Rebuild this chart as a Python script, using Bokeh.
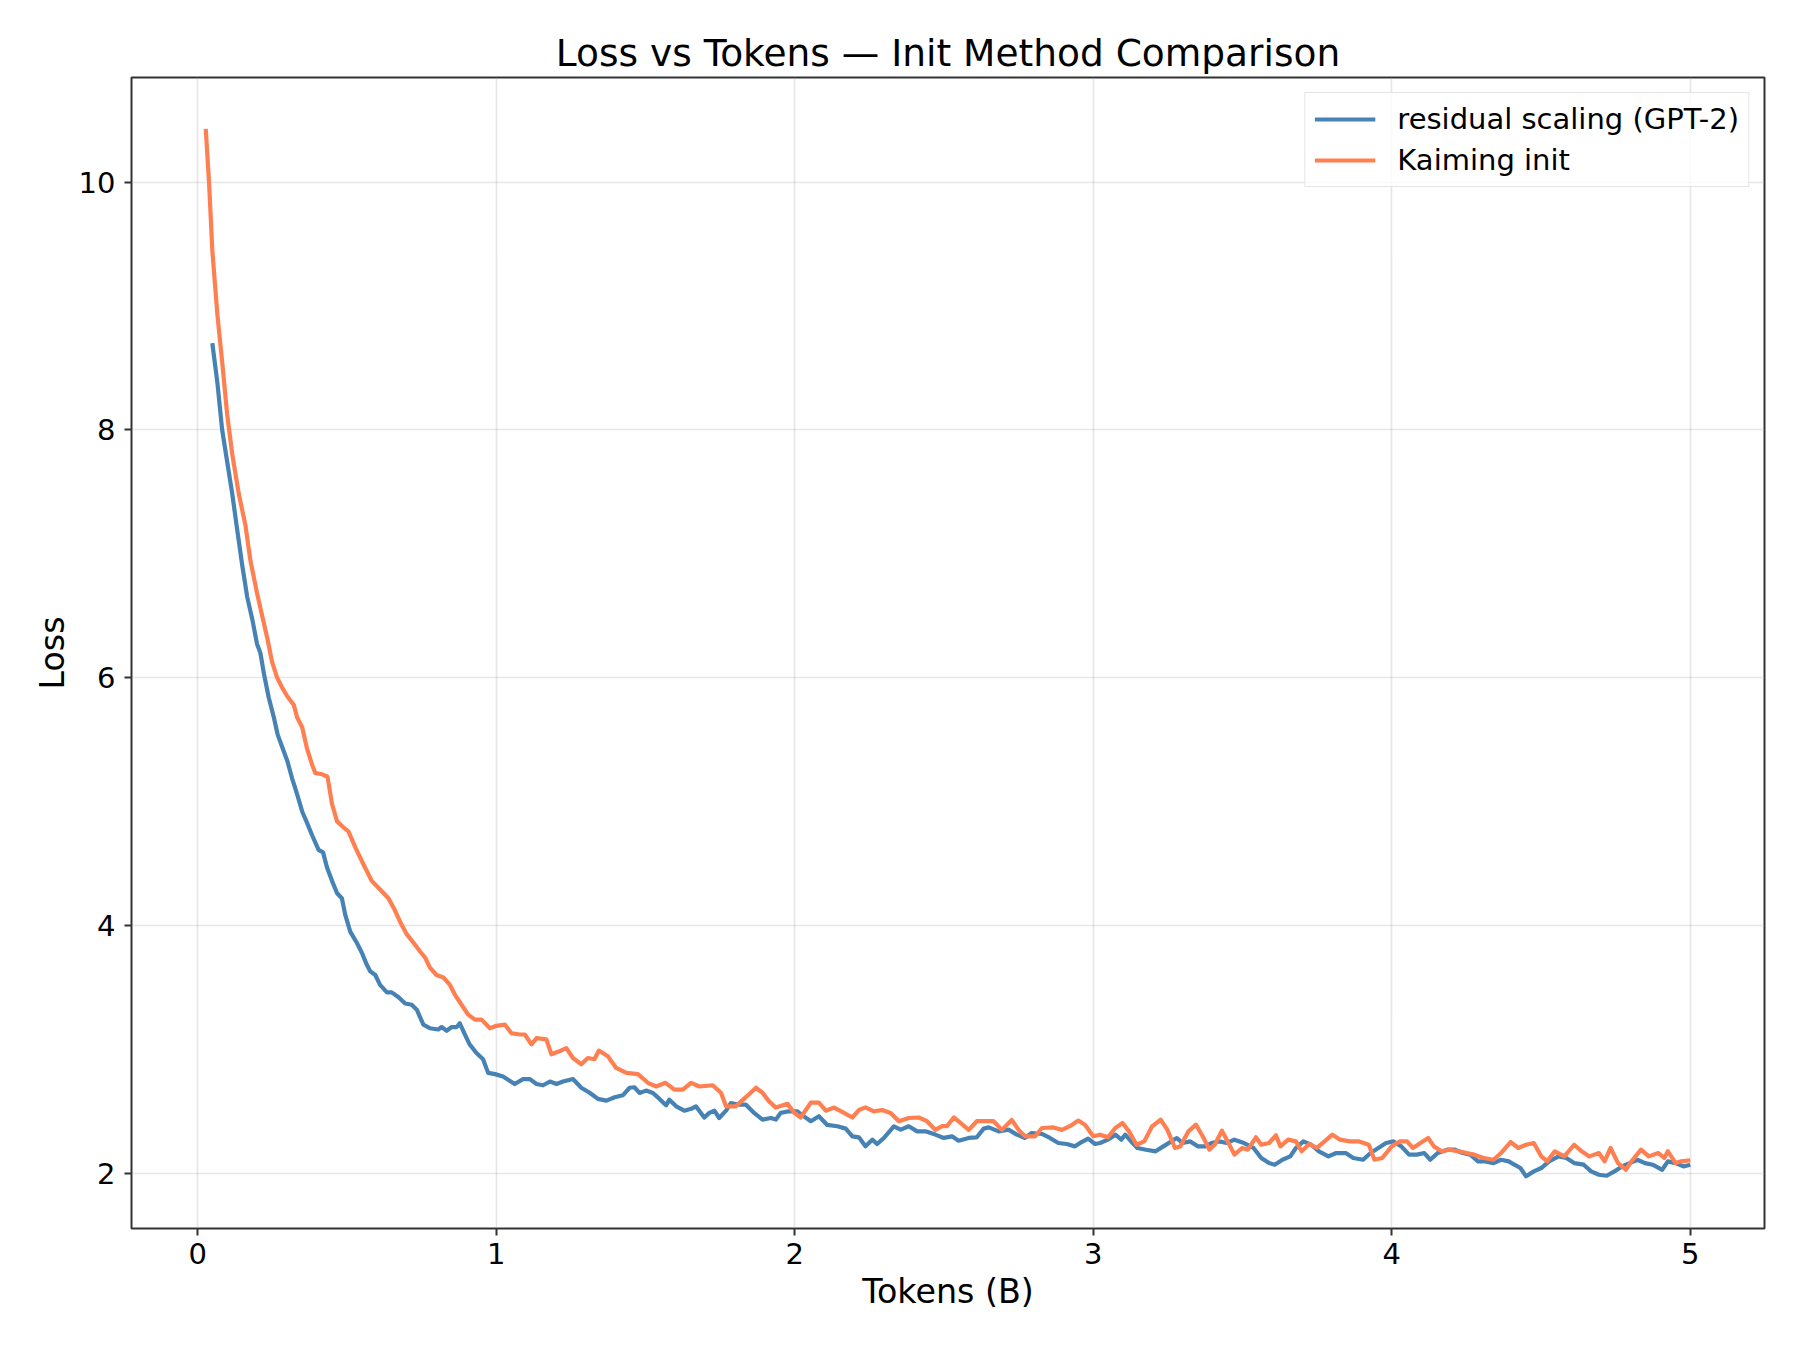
from bokeh.plotting import figure
from bokeh.models import Range1d, FixedTicker
from bokeh.embed import file_html
from bokeh.resources import INLINE

TITLE = "Loss vs Tokens \u2014 Init Method Comparison"
X_LABEL = "Tokens (B)"
Y_LABEL = "Loss"
X_TICKS = [0, 1, 2, 3, 4, 5]
Y_TICKS = [2, 4, 6, 8, 10]
SERIES_NAMES = ["residual scaling (GPT-2)", "Kaiming init"]
SERIES_COLORS = ["#4682B4", "#FF7F50"]

residual_tokens = [
    0.049, 0.066, 0.082, 0.099, 0.116, 0.132, 0.149, 0.166, 0.183, 0.199,
    0.210, 0.222, 0.238, 0.255, 0.268, 0.280, 0.300, 0.316, 0.333, 0.350,
    0.366, 0.383, 0.405, 0.420, 0.433, 0.450, 0.467, 0.483, 0.494, 0.511,
    0.533, 0.550, 0.567, 0.578, 0.595, 0.611, 0.634, 0.650, 0.673, 0.695,
    0.717, 0.734, 0.756, 0.778, 0.806, 0.817, 0.834, 0.851, 0.867, 0.878,
    0.895, 0.911, 0.934, 0.956, 0.973, 0.996, 1.023, 1.062, 1.090, 1.113,
    1.135, 1.157, 1.180, 1.202, 1.224, 1.257, 1.285, 1.313, 1.341, 1.369,
    1.397, 1.424, 1.447, 1.463, 1.480, 1.502, 1.525, 1.547, 1.569, 1.580,
    1.603, 1.630, 1.653, 1.669, 1.697, 1.714, 1.731, 1.747, 1.770, 1.786,
    1.809, 1.836, 1.864, 1.892, 1.920, 1.937, 1.953, 1.981, 2.009, 2.026,
    2.054, 2.081, 2.109, 2.143, 2.171, 2.193, 2.215, 2.237, 2.260, 2.276,
    2.299, 2.332, 2.355, 2.382, 2.410, 2.438, 2.471, 2.499, 2.527, 2.549,
    2.583, 2.610, 2.633, 2.650, 2.683, 2.716, 2.744, 2.772, 2.794, 2.828,
    2.855, 2.883, 2.911, 2.939, 2.961, 2.983, 3.006, 3.023, 3.049, 3.074,
    3.094, 3.107, 3.132, 3.148, 3.177, 3.209, 3.235, 3.261, 3.280, 3.299,
    3.325, 3.351, 3.376, 3.396, 3.422, 3.447, 3.473, 3.505, 3.537, 3.563,
    3.589, 3.608, 3.634, 3.660, 3.679, 3.704, 3.730, 3.756, 3.788, 3.814,
    3.846, 3.871, 3.904, 3.929, 3.955, 3.981, 4.006, 4.032, 4.058, 4.084,
    4.109, 4.129, 4.154, 4.186, 4.212, 4.238, 4.263, 4.289, 4.314, 4.341,
    4.366, 4.392, 4.411, 4.431, 4.450, 4.476, 4.501, 4.527, 4.559, 4.585,
    4.611, 4.643, 4.668, 4.694, 4.720, 4.746, 4.771, 4.797, 4.823, 4.848,
    4.874, 4.906, 4.925, 4.951, 4.977, 5.000,
]
residual_loss = [
    8.70, 8.38, 8.00, 7.74, 7.48, 7.20, 6.91, 6.65, 6.47, 6.27,
    6.20, 6.03, 5.84, 5.68, 5.54, 5.46, 5.33, 5.19, 5.06, 4.92,
    4.83, 4.73, 4.61, 4.59, 4.47, 4.36, 4.26, 4.22, 4.09, 3.95,
    3.86, 3.78, 3.68, 3.63, 3.60, 3.52, 3.46, 3.46, 3.42, 3.37,
    3.36, 3.32, 3.20, 3.17, 3.16, 3.18, 3.15, 3.18, 3.18, 3.21,
    3.12, 3.04, 2.97, 2.92, 2.81, 2.80, 2.78, 2.72, 2.76, 2.76,
    2.72, 2.71, 2.74, 2.72, 2.74, 2.76, 2.69, 2.65, 2.60, 2.586,
    2.613, 2.629, 2.69, 2.694, 2.648, 2.667, 2.648, 2.60, 2.548, 2.594,
    2.54, 2.505, 2.52, 2.54, 2.45, 2.487, 2.505, 2.446, 2.505, 2.567,
    2.554, 2.554, 2.487, 2.433, 2.446, 2.433, 2.487, 2.50, 2.50, 2.467,
    2.42, 2.46, 2.39, 2.379, 2.36, 2.298, 2.29, 2.217, 2.271, 2.236,
    2.285, 2.379, 2.352, 2.379, 2.338, 2.338, 2.312, 2.285, 2.298, 2.263,
    2.285, 2.29, 2.36, 2.37, 2.338, 2.352, 2.312, 2.285, 2.325, 2.317,
    2.285, 2.244, 2.236, 2.217, 2.252, 2.279, 2.236, 2.244, 2.271, 2.311,
    2.271, 2.311, 2.244, 2.204, 2.19, 2.177, 2.217, 2.257, 2.284, 2.244,
    2.257, 2.217, 2.217, 2.244, 2.257, 2.244, 2.271, 2.244, 2.204, 2.123,
    2.082, 2.069, 2.109, 2.136, 2.204, 2.257, 2.23, 2.177, 2.136, 2.163,
    2.163, 2.123, 2.109, 2.163, 2.204, 2.244, 2.257, 2.217, 2.15, 2.15,
    2.163, 2.109, 2.163, 2.19, 2.19, 2.163, 2.15, 2.096, 2.096, 2.082,
    2.109, 2.096, 2.069, 2.042, 1.975, 2.015, 2.042, 2.096, 2.136, 2.123,
    2.082, 2.069, 2.015, 1.988, 1.98, 2.015, 2.055, 2.082, 2.109, 2.082,
    2.069, 2.028, 2.096, 2.082, 2.055, 2.069,
]

kaiming_tokens = [
    0.027, 0.038, 0.049, 0.066, 0.082, 0.099, 0.116, 0.138, 0.160, 0.177,
    0.199, 0.216, 0.233, 0.249, 0.266, 0.283, 0.300, 0.322, 0.333, 0.350,
    0.366, 0.383, 0.394, 0.417, 0.435, 0.450, 0.467, 0.489, 0.505, 0.528,
    0.556, 0.583, 0.611, 0.639, 0.661, 0.678, 0.700, 0.723, 0.745, 0.762,
    0.778, 0.800, 0.823, 0.845, 0.862, 0.884, 0.906, 0.929, 0.951, 0.979,
    1.001, 1.029, 1.051, 1.079, 1.096, 1.118, 1.135, 1.168, 1.185, 1.207,
    1.235, 1.257, 1.285, 1.307, 1.329, 1.344, 1.374, 1.402, 1.436, 1.475,
    1.508, 1.536, 1.567, 1.597, 1.625, 1.653, 1.681, 1.725, 1.753, 1.770,
    1.803, 1.825, 1.848, 1.870, 1.892, 1.914, 1.937, 1.976, 1.998, 2.020,
    2.054, 2.081, 2.104, 2.132, 2.159, 2.193, 2.215, 2.237, 2.265, 2.293,
    2.321, 2.349, 2.382, 2.416, 2.443, 2.471, 2.494, 2.510, 2.533, 2.555,
    2.583, 2.610, 2.638, 2.666, 2.694, 2.727, 2.750, 2.772, 2.805, 2.828,
    2.867, 2.895, 2.922, 2.950, 2.973, 3.000, 3.023, 3.049, 3.074, 3.098,
    3.120, 3.145, 3.171, 3.197, 3.226, 3.248, 3.274, 3.292, 3.319, 3.344,
    3.370, 3.389, 3.407, 3.431, 3.453, 3.473, 3.499, 3.518, 3.545, 3.563,
    3.589, 3.612, 3.627, 3.653, 3.679, 3.698, 3.724, 3.749, 3.775, 3.801,
    3.827, 3.859, 3.891, 3.923, 3.942, 3.968, 4.000, 4.026, 4.051, 4.071,
    4.096, 4.122, 4.141, 4.167, 4.193, 4.225, 4.251, 4.276, 4.308, 4.341,
    4.366, 4.398, 4.424, 4.450, 4.476, 4.501, 4.521, 4.546, 4.578, 4.611,
    4.636, 4.662, 4.694, 4.713, 4.733, 4.758, 4.784, 4.803, 4.835, 4.861,
    4.893, 4.913, 4.925, 4.951, 4.970, 5.000,
]
kaiming_loss = [
    10.43, 10.00, 9.45, 8.93, 8.55, 8.12, 7.80, 7.48, 7.23, 6.94,
    6.68, 6.50, 6.32, 6.13, 6.00, 5.92, 5.85, 5.78, 5.68, 5.60,
    5.43, 5.30, 5.23, 5.22, 5.20, 4.98, 4.84, 4.79, 4.76, 4.63,
    4.49, 4.36, 4.29, 4.22, 4.12, 4.03, 3.93, 3.86, 3.79, 3.74,
    3.66, 3.60, 3.58, 3.52, 3.44, 3.36, 3.28, 3.24, 3.24, 3.17,
    3.19, 3.20, 3.13, 3.12, 3.12, 3.04, 3.09, 3.08, 2.96, 2.98,
    3.01, 2.93, 2.88, 2.93, 2.92, 2.99, 2.944, 2.85, 2.81, 2.80,
    2.73, 2.70, 2.73, 2.675, 2.675, 2.73, 2.70, 2.71, 2.65, 2.54,
    2.54, 2.59, 2.64, 2.69, 2.65, 2.58, 2.53, 2.56, 2.49, 2.45,
    2.57, 2.57, 2.505, 2.53, 2.495, 2.45, 2.51, 2.532, 2.50, 2.51,
    2.487, 2.42, 2.446, 2.45, 2.42, 2.35, 2.38, 2.38, 2.45, 2.406,
    2.35, 2.42, 2.42, 2.42, 2.35, 2.43, 2.35, 2.298, 2.298, 2.365,
    2.37, 2.35, 2.38, 2.425, 2.39, 2.298, 2.311, 2.29, 2.365, 2.405,
    2.338, 2.23, 2.257, 2.378, 2.432, 2.352, 2.204, 2.217, 2.338, 2.392,
    2.284, 2.19, 2.23, 2.344, 2.244, 2.15, 2.204, 2.19, 2.29, 2.23,
    2.244, 2.306, 2.217, 2.271, 2.257, 2.177, 2.236, 2.204, 2.257, 2.311,
    2.271, 2.257, 2.257, 2.23, 2.109, 2.123, 2.217, 2.257, 2.257, 2.204,
    2.244, 2.284, 2.217, 2.177, 2.19, 2.177, 2.163, 2.15, 2.123, 2.109,
    2.163, 2.252, 2.204, 2.23, 2.244, 2.136, 2.096, 2.177, 2.136, 2.23,
    2.177, 2.136, 2.163, 2.096, 2.204, 2.082, 2.028, 2.096, 2.19, 2.136,
    2.163, 2.123, 2.177, 2.082, 2.096, 2.105,
]

FONT = "DejaVu Sans"
FRAME = "#333333"

p = figure(
    width=1784, height=1334,
    x_range=Range1d(-0.2217, 5.2487),
    y_range=Range1d(1.554, 10.844),
    output_backend="svg", toolbar_location=None,
    min_border_left=131, min_border_right=20,
    min_border_top=77, min_border_bottom=106,
    title=TITLE,
)
p.background_fill_color = "white"
p.border_fill_color = "white"
p.outline_line_color = FRAME
p.outline_line_width = 2
p.outline_line_alpha = 1.0

p.title.align = "center"
p.title.text_font = FONT
p.title.text_font_size = "37.5px"
p.title.text_font_style = "normal"
p.title.text_color = "black"
p.title.standoff = 6

for ax in (p.xaxis[0], p.yaxis[0]):
    ax.axis_line_color = None
    ax.major_tick_line_color = FRAME
    ax.major_tick_line_width = 2
    ax.major_tick_out = 7
    ax.major_tick_in = 0
    ax.minor_tick_line_color = None
    ax.major_label_text_font = FONT
    ax.major_label_text_font_size = "29px"
    ax.major_label_text_color = "black"
    ax.axis_label_text_font = FONT
    ax.axis_label_text_font_size = "33.3px"
    ax.axis_label_text_font_style = "normal"
    ax.axis_label_text_color = "black"

p.xaxis.ticker = FixedTicker(ticks=X_TICKS)
p.yaxis.ticker = FixedTicker(ticks=Y_TICKS)
p.xaxis.axis_label = X_LABEL
p.yaxis.axis_label = Y_LABEL
p.xaxis.major_label_standoff = 7
p.yaxis.major_label_standoff = 9
p.xaxis.axis_label_standoff = 5
p.yaxis.axis_label_standoff = 4

p.xgrid.ticker = FixedTicker(ticks=X_TICKS)
p.ygrid.ticker = FixedTicker(ticks=Y_TICKS)
for g in (p.xgrid[0], p.ygrid[0]):
    g.grid_line_color = "#b0b0b0"
    g.grid_line_alpha = 0.3
    g.grid_line_width = 1.7

p.line(residual_tokens, residual_loss, color=SERIES_COLORS[0], line_width=4.2,
       line_join="round", legend_label=SERIES_NAMES[0])
p.line(kaiming_tokens, kaiming_loss, color=SERIES_COLORS[1], line_width=4.2,
       line_join="round", legend_label=SERIES_NAMES[1])

lg = p.legend[0]
lg.location = "top_right"
lg.margin = 15
lg.padding = 9
lg.spacing = 7
lg.label_text_font = FONT
lg.label_text_font_size = "29px"
lg.label_text_color = "black"
lg.glyph_width = 61
lg.glyph_height = 34
lg.label_height = 34
lg.label_standoff = 22
lg.border_line_color = "#cccccc"
lg.border_line_width = 1.5
lg.background_fill_color = "white"
lg.background_fill_alpha = 0.8

open("out.html", "w").write(file_html(p, INLINE))
